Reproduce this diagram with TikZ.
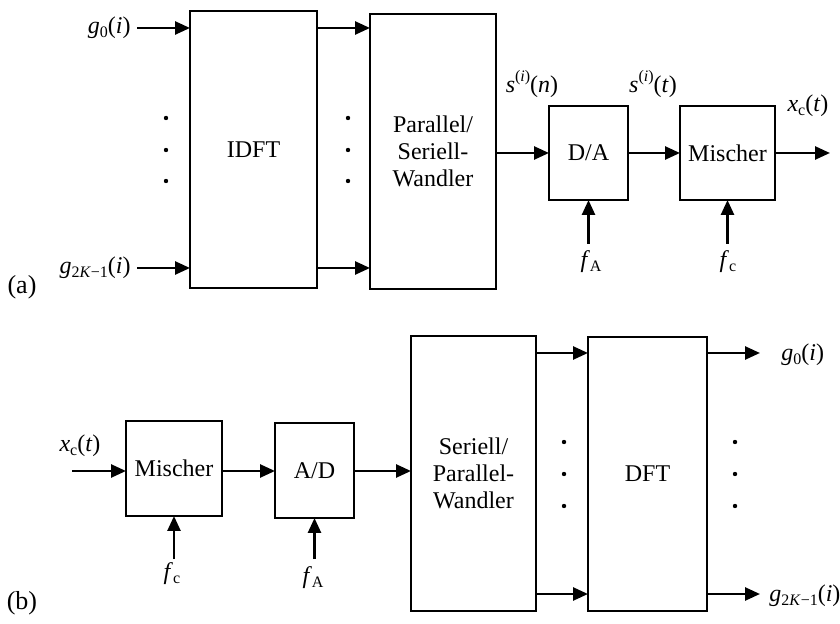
\documentclass[tikz,border=0pt]{standalone}
\usepackage{fontspec}
\setmainfont{Liberation Serif}
\usetikzlibrary{arrows.meta}
\newcommand{\lo}[1]{\raisebox{-0.3ex}{\footnotesize #1}}
\newcommand{\hi}[1]{\raisebox{0.95ex}{\footnotesize #1}}
\newcommand{\gzero}{\textit{g}\lo{0}(\textit{i})}
\newcommand{\gkay}{\textit{g}\lo{2\textit{K}−1}(\textit{i})}
\newcommand{\xct}{\textit{x}\lo{c}(\textit{t})}
\begin{document}
\begin{tikzpicture}[x=0.5pt,y=-0.5pt,
  blk/.style={draw,line width=0.7pt,inner sep=0pt,outer sep=0pt,align=center,
    font=\fontsize{12}{13.5}\selectfont},
  arr/.style={line width=1.3pt,-{Triangle[length=7.5pt,width=6.5pt]}},
  lbl/.style={inner sep=0pt,font=\fontsize{12}{14}\selectfont},
  dotc/.style={fill,circle,inner sep=0pt,minimum size=2.2pt}]
\useasboundingbox (0,0) rectangle (840,624);
% ---------- (a) ----------
\node[blk,minimum width=63.5pt,minimum height=138.5pt] (idft) at (253.5,149.5) {IDFT};
\node[blk,minimum width=63pt,minimum height=137.5pt] (ps) at (433,151.5) {Parallel/\\Seriell-\\Wandler};
\node[blk,minimum width=39.5pt,minimum height=47pt] (da) at (588.5,153) {D/A};
\node[blk,minimum width=47.5pt,minimum height=47pt] (mxa) at (727.5,153) {Mischer};
\coordinate (ya) at (0,28);
\coordinate (yb) at (0,268);
\node[lbl,anchor=east] (ga0) at (131,28) {\gzero};
\node[lbl,anchor=east] (gak) at (131,268) {\gkay};
\coordinate (ga0s) at (137,28);
\coordinate (gaks) at (137,268);
\draw[arr] (ga0s) -- (idft.west |- ya);
\draw[arr] (gaks) -- (idft.west |- yb);
\draw[arr] (idft.east |- ya) -- (ps.west |- ya);
\draw[arr] (idft.east |- yb) -- (ps.west |- yb);
\foreach \y [count=\k] in {118,150,181}{
  \node[dotc] (dA\k) at (166,\y) {};
  \node[dotc] (dB\k) at (348,\y) {};}
\draw[arr] (ps.east |- da.west) -- (da.west);
\draw[arr] (da.east) -- (mxa.west);
\coordinate (xaout) at (830,153);
\draw[arr] (mxa.east) -- (xaout);
\node[lbl] (sn) at (532,84) {\textit{s}\hi{(\textit{i})}(\textit{n})};
\node[lbl] (st) at (653,84) {\textit{s}\hi{(\textit{i})}(\textit{t})};
\node[lbl] (xca) at (808,106) {\xct};
\node[lbl] (fAa) at (591,262) {\textit{f}\lo{A}};
\node[lbl] (fca) at (728,262) {\textit{f}\lo{c}};
\coordinate (ylo) at (0,244);
\draw[arr] (da.south |- ylo) -- (da.south);
\draw[arr] (mxa.south |- ylo) -- (mxa.south);
\node[lbl,font=\fontsize{13}{15}\selectfont] (la) at (22,287) {(a)};
% ---------- (b) ----------
\node[blk,minimum width=48pt,minimum height=47.5pt] (mxb) at (174,468.5) {Mischer};
\node[blk,minimum width=39.5pt,minimum height=47.5pt] (ad) at (314.5,470.5) {A/D};
\node[blk,minimum width=62.5pt,minimum height=137.5pt] (sp) at (473.5,473.5) {Seriell/\\Parallel-\\Wandler};
\node[blk,minimum width=59.5pt,minimum height=137pt] (dft) at (647.5,474) {DFT};
\coordinate (yc) at (0,471);
\coordinate (yd) at (0,353);
\coordinate (ye) at (0,594);
\coordinate (xbin) at (72,471);
\draw[arr] (xbin) -- (mxb.west |- yc);
\draw[arr] (mxb.east |- yc) -- (ad.west |- yc);
\draw[arr] (ad.east |- yc) -- (sp.west |- yc);
\draw[arr] (sp.east |- yd) -- (dft.west |- yd);
\draw[arr] (sp.east |- ye) -- (dft.west |- ye);
\coordinate (gb0e) at (760,353);
\coordinate (gbke) at (760,594);
\draw[arr] (dft.east |- yd) -- (gb0e);
\draw[arr] (dft.east |- ye) -- (gbke);
\node[lbl,anchor=west] (gb0) at (781,355) {\gzero};
\node[lbl,anchor=west] (gbk) at (769,596) {\gkay};
\foreach \y [count=\k] in {442,474,506}{
  \node[dotc] (dC\k) at (564,\y) {};
  \node[dotc] (dD\k) at (735,\y) {};}
\node[lbl] (xcb) at (80,446) {\xct};
\node[lbl] (fcb) at (172,574) {\textit{f}\lo{c}};
\node[lbl] (fAb) at (313,578) {\textit{f}\lo{A}};
\coordinate (ylb) at (0,559);
\draw[arr] (mxb.south |- ylb) -- (mxb.south);
\draw[arr] (ad.south |- ylb) -- (ad.south);
\node[lbl,font=\fontsize{13}{15}\selectfont] (lb) at (22,603) {(b)};
\end{tikzpicture}
\end{document}
